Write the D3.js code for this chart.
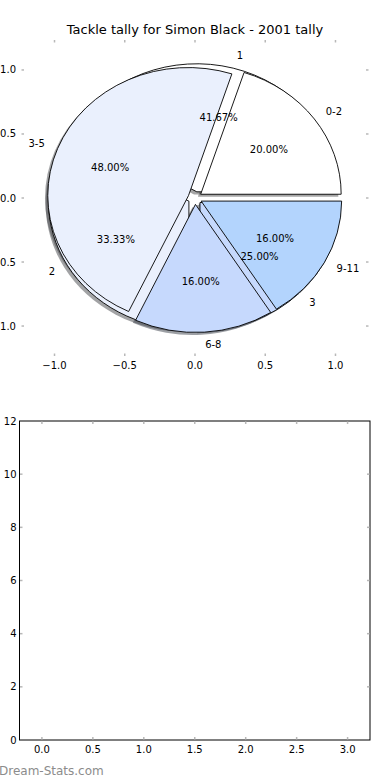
<!DOCTYPE html>
<html>
<head>
<meta charset="utf-8">
<script src="https://cdn.jsdelivr.net/npm/d3@7"></script>
<style>
  body { margin: 0; background: #fff; }
  svg { display: block; font-family: 'DejaVu Sans', sans-serif; }
</style>
</head>
<body>
<script>
// chart data
const title = 'Tackle tally for Simon Black - 2001 tally';
const rangeLabels = ['0-2', '3-5', '6-8', '9-11'];
const rangeValues = [5, 12, 4, 4];
const tallyLabels = ['1', '2', '3'];
const tallyValues = [5, 4, 3];
const pieTicks = [-1.0, -0.5, 0.0, 0.5, 1.0];
const barXTicks = [0, 0.5, 1, 1.5, 2, 2.5, 3];
const barYTicks = [0, 2, 4, 6, 8, 10, 12];
const colors = ['#ffffff', '#eaf0fd', '#c6d9fd', '#b3d4fd'];

const W = 390;
const H = 780;
const explode = 0.05;
const tickColor = '#b8b8b8';

const svg = d3.select('body').append('svg')
  .attr('width', W)
  .attr('height', H);

// ---- top axes: pie ----
const px = d3.scaleLinear().domain([-1.235, 1.235]).range([21.5, 368.5]);
const py = d3.scaleLinear().domain([-1.234, 1.234]).range([356, 40]);
const sx = px(1) - px(0);
const sy = py(0) - py(1);

svg.append('text')
  .attr('x', W / 2)
  .attr('y', 34)
  .attr('text-anchor', 'middle')
  .style('font-size', '13px')
  .text(title);

// gray inward tick marks, no frame
function pieTickMarks() {
  const g = svg.append('g').attr('stroke', tickColor).attr('stroke-width', 1.5);
  pieTicks.forEach((t) => {
    g.append('line').attr('x1', px(t)).attr('x2', px(t)).attr('y1', py.range()[1]).attr('y2', py.range()[1] + 2.5);
    g.append('line').attr('x1', px(t)).attr('x2', px(t)).attr('y1', py.range()[0]).attr('y2', py.range()[0] - 2.5);
    g.append('line').attr('y1', py(t)).attr('y2', py(t)).attr('x1', px.range()[0]).attr('x2', px.range()[0] + 2.5);
    g.append('line').attr('y1', py(t)).attr('y2', py(t)).attr('x1', px.range()[1]).attr('x2', px.range()[1] - 2.5);
  });
  const fmt = d3.format('.1f');
  const lab = svg.append('g').style('font-size', '10px').attr('fill', '#000');
  pieTicks.forEach((t) => {
    lab.append('text')
      .attr('x', px(t)).attr('y', py.range()[0] + 13)
      .attr('text-anchor', 'middle')
      .text(fmt(t).replace('-', '\u2212'));
    lab.append('text')
      .attr('x', px.range()[0] - 5.5).attr('y', py(t))
      .attr('dy', '0.35em')
      .attr('text-anchor', 'end')
      .text(fmt(t).replace('-', '\u2212'));
  });
}
pieTickMarks();

// pie layout: start at 3 o'clock, counterclockwise (like matplotlib)
const pie = d3.pie().sort(null)
  .startAngle(Math.PI / 2)
  .endAngle(Math.PI / 2 - 2 * Math.PI);
const unitArc = d3.arc().innerRadius(0).outerRadius(1);

function layoutPie(values, labels) {
  const total = d3.sum(values);
  return pie(values).map((a, i) => {
    const mid = (a.startAngle + a.endAngle) / 2;
    const ux = Math.sin(mid);
    const uy = Math.cos(mid);
    return {
      arc: a,
      label: labels[i],
      pct: `${(values[i] / total * 100).toFixed(2)}%`,
      color: colors[i],
      ux,
      uy,
      cx: px(explode * ux),
      cy: py(explode * uy),
    };
  });
}

const tallyWedges = layoutPie(tallyValues, tallyLabels);
const rangeWedges = layoutPie(rangeValues, rangeLabels);

// shadows go under all wedges
const shadowDx = px(-0.02) - px(0);
const shadowDy = py(-0.02) - py(0);
const gShadow = svg.append('g');
[...tallyWedges, ...rangeWedges].forEach((w) => {
  const c = d3.rgb(w.color);
  gShadow.append('path')
    .attr('d', unitArc(w.arc))
    .attr('transform', `translate(${w.cx + shadowDx},${w.cy + shadowDy}) scale(${sx},${sy})`)
    .attr('fill', d3.rgb(c.r * 0.3, c.g * 0.3, c.b * 0.3))
    .attr('fill-opacity', 0.5);
});

function drawWedges(wedges) {
  const g = svg.append('g');
  g.selectAll('path').data(wedges).enter().append('path')
    .attr('d', d => unitArc(d.arc))
    .attr('transform', d => `translate(${d.cx},${d.cy}) scale(${sx},${sy})`)
    .attr('fill', d => d.color)
    .attr('stroke', '#000')
    .attr('stroke-width', 0.9)
    .attr('vector-effect', 'non-scaling-stroke');
}
drawWedges(tallyWedges);
drawWedges(rangeWedges);

function drawPieTexts(wedges) {
  const g = svg.append('g').style('font-size', '10px').attr('fill', '#000');
  wedges.forEach((w) => {
    const lx = px(w.ux * (1.1 + explode));
    const ly = py(w.uy * (1.1 + explode));
    g.append('text')
      .attr('x', lx).attr('y', ly).attr('dy', '0.35em')
      .attr('text-anchor', w.ux > 0 ? 'start' : 'end')
      .text(w.label);
    g.append('text')
      .attr('x', px(w.ux * (0.6 + explode))).attr('y', py(w.uy * (0.6 + explode)))
      .attr('dy', '0.35em')
      .attr('text-anchor', 'middle')
      .text(w.pct);
  });
}
drawPieTexts(tallyWedges);
drawPieTexts(rangeWedges);

// ---- bottom axes: empty ----
const bx = d3.scaleLinear().domain([-0.22, 3.22]).range([19.5, 370]);
const by = d3.scaleLinear().domain([0, 12]).range([740, 421]);

const gb = svg.append('g');
gb.append('rect')
  .attr('x', bx.range()[0]).attr('y', by.range()[1])
  .attr('width', bx.range()[1] - bx.range()[0])
  .attr('height', by.range()[0] - by.range()[1])
  .attr('fill', 'none')
  .attr('stroke', '#000')
  .attr('stroke-width', 1);

const gbt = gb.append('g').attr('stroke', tickColor).attr('stroke-width', 1.5);
barXTicks.forEach((t) => {
  gbt.append('line').attr('x1', bx(t)).attr('x2', bx(t)).attr('y1', by.range()[1] + 0.5).attr('y2', by.range()[1] + 3);
  gbt.append('line').attr('x1', bx(t)).attr('x2', bx(t)).attr('y1', by.range()[0] - 0.5).attr('y2', by.range()[0] - 3);
});
barYTicks.slice(1, -1).forEach((t) => {
  gbt.append('line').attr('y1', by(t)).attr('y2', by(t)).attr('x1', bx.range()[0] + 0.5).attr('x2', bx.range()[0] + 3);
  gbt.append('line').attr('y1', by(t)).attr('y2', by(t)).attr('x1', bx.range()[1] - 0.5).attr('x2', bx.range()[1] - 3);
});

const gbl = gb.append('g').style('font-size', '10px').attr('fill', '#000');
barXTicks.forEach((t) => {
  gbl.append('text')
    .attr('x', bx(t)).attr('y', by.range()[0] + 13)
    .attr('text-anchor', 'middle')
    .text(d3.format('.1f')(t));
});
barYTicks.forEach((t) => {
  gbl.append('text')
    .attr('x', bx.range()[0] - 3).attr('y', by(t))
    .attr('dy', '0.35em')
    .attr('text-anchor', 'end')
    .text(t);
});

// watermark
svg.append('text')
  .attr('x', -1)
  .attr('y', 775)
  .style('font-size', '12px')
  .attr('fill', '#8c8c8c')
  .text('Dream-Stats.com');
</script>
</body>
</html>
